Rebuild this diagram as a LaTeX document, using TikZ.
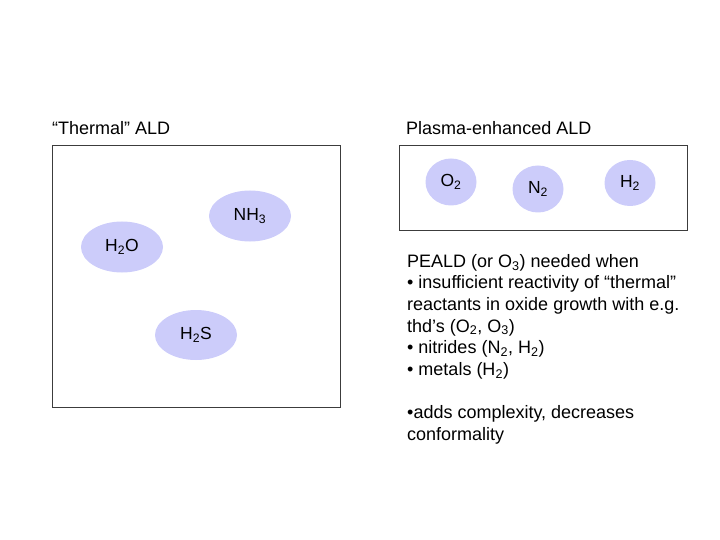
\documentclass[tikz,border=0pt]{standalone}
\usepackage{fontspec}
\setmainfont{Liberation Sans}
\usetikzlibrary{shapes.geometric}
\definecolor{gasfill}{RGB}{204,204,250}
\definecolor{boxline}{RGB}{60,60,60}
\tikzset{
  gas/.style={ellipse, fill=gasfill, draw=none, inner sep=0pt, font=\fontsize{17.5}{20}\selectfont},
  frame/.style={draw=boxline, line width=0.9pt},
  title/.style={anchor=west, inner sep=0pt, font=\fontsize{18}{21}\selectfont}
}
\begin{document}
\begin{tikzpicture}[x=1pt,y=-1pt]
\useasboundingbox (0,0) rectangle (720,540);
% left panel
\node[title] (tt) at (52,128) {“Thermal” ALD};
\draw[frame] (52,145) rectangle (340,407);
\node[gas, minimum width=82pt, minimum height=51pt] (h2o) at (122,247) {H\textsubscript{2}O};
\node[gas, minimum width=82pt, minimum height=51pt] (nh3) at (250,216) {NH\textsubscript{3}};
\node[gas, minimum width=82pt, minimum height=50pt] (h2s) at (196,335) {H\textsubscript{2}S};
% right panel
\node[title] (pt) at (406,128) {Plasma-enhanced ALD};
\draw[frame] (399,145) rectangle (687,230);
\node[gas, minimum width=51pt, minimum height=47pt] (o2) at (451,182) {O\textsubscript{2}};
\node[gas, minimum width=51pt, minimum height=47pt] (n2) at (538,189) {N\textsubscript{2}};
\node[gas, minimum width=51pt, minimum height=46pt] (h2) at (630,183) {H\textsubscript{2}};
% text
\node[anchor=north west, inner sep=0pt, align=left, font=\fontsize{18}{21.6}\selectfont] (txt) at (407,254) {%
PEALD (or O\textsubscript{3}) needed when\\
• insufficient reactivity of “thermal”\\
reactants in oxide growth with e.g.\\
thd’s (O\textsubscript{2}, O\textsubscript{3})\\
• nitrides (N\textsubscript{2}, H\textsubscript{2})\\
• metals (H\textsubscript{2})\\[21.6pt]
•adds complexity, decreases\\
conformality};
\end{tikzpicture}
\end{document}
